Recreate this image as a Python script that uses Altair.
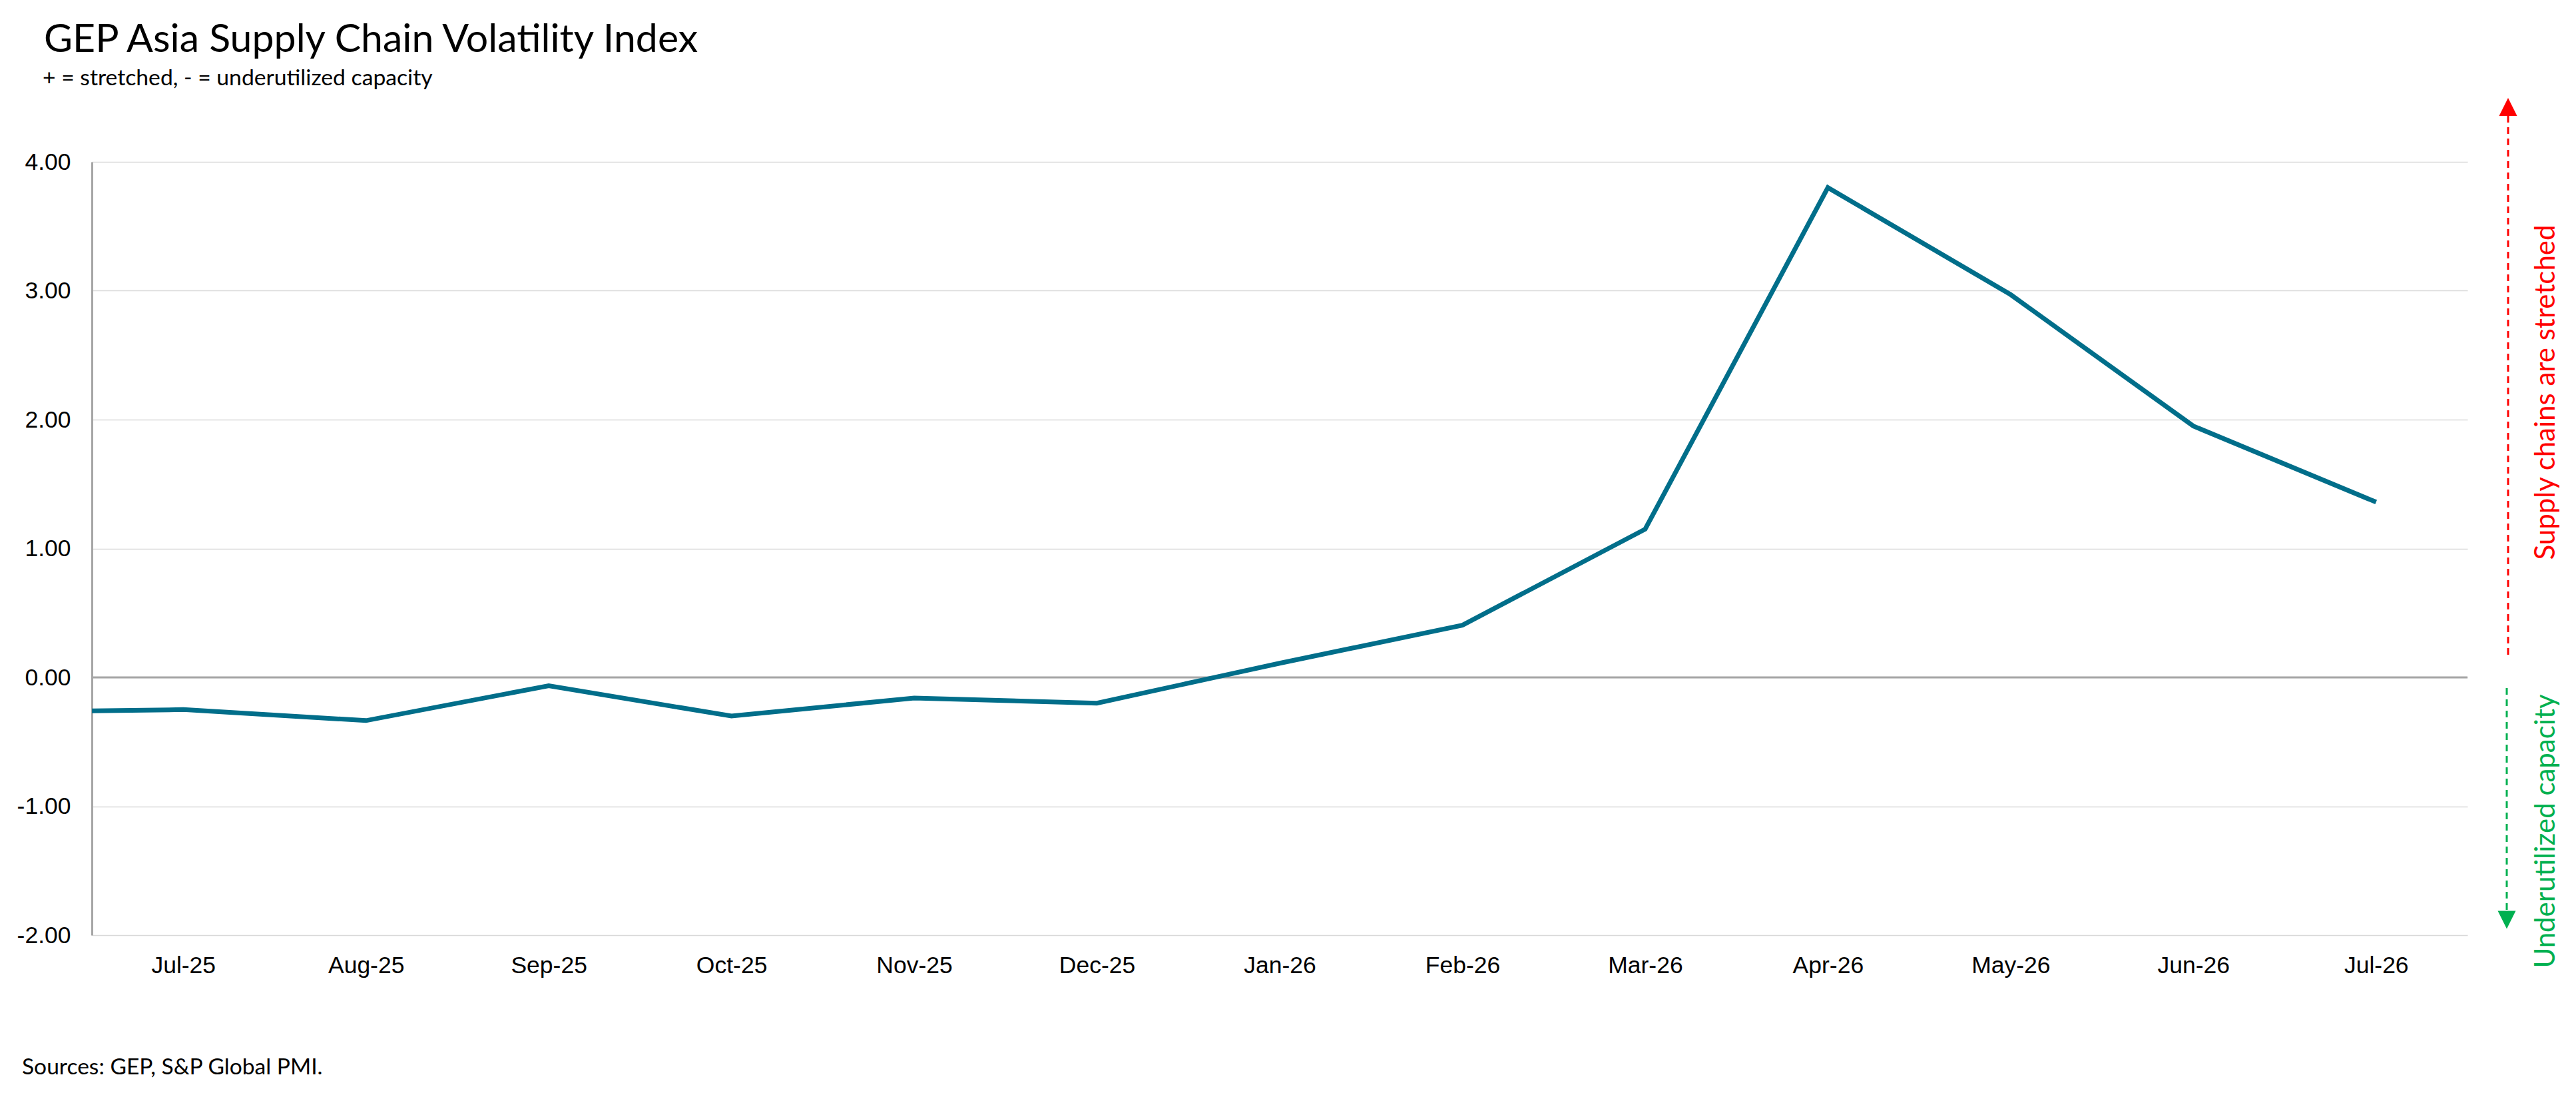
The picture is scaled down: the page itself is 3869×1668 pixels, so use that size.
import json
import altair as alt
import pandas as pd

# ---------------- data ----------------
months = ["Jun-25", "Jul-25", "Aug-25", "Sep-25", "Oct-25", "Nov-25", "Dec-25",
          "Jan-26", "Feb-26", "Mar-26", "Apr-26", "May-26", "Jun-26", "Jul-26"]
values = [-0.27, -0.25, -0.335, -0.065, -0.30, -0.16, -0.20,
          0.11, 0.405, 1.15, 3.80, 2.97, 1.95, 1.36]
y_ticks = [-2, -1, 0, 1, 2, 3, 4]

title_text = "GEP Asia Supply Chain Volatility Index"
subtitle_text = "+ = stretched, - = underutilized capacity"
source_text = "Sources: GEP, S&P Global PMI."
up_text = "Supply chains are stretched"
down_text = "Underutilized capacity"

df = pd.DataFrame({"idx": list(range(len(months))), "month": months, "value": values})
label_expr = f"{json.dumps(months)}[datum.value]"

W, H = 3568, 1161
TEXT_FONT = "Lato"
AXIS_FONT = "Liberation Sans"
LINE_COLOR = "#016E8A"
RED = "#FF0000"
GREEN = "#00B050"

x_enc = alt.X(
    "idx:Q",
    scale=alt.Scale(domain=[0.5, len(months) - 0.5], nice=False, zero=False),
    axis=alt.Axis(values=list(range(1, len(months))), labelExpr=label_expr,
                  title=None, grid=False, domain=False, ticks=False,
                  labelFont=AXIS_FONT, labelFontSize=35.5, labelColor="#000000",
                  labelPadding=56, labelBaseline="alphabetic"),
)
y_enc = alt.Y(
    "value:Q",
    scale=alt.Scale(domain=[-2, 4], nice=False, zero=False),
    axis=alt.Axis(values=y_ticks,
                  labelExpr="replace(format(datum.value, '.2f'), '\u2212', '-')",
                  title=None, grid=True,
                  gridColor="#D9D9D9", gridWidth=1.5, domain=True,
                  domainColor="#A6A6A6", domainWidth=3, ticks=False,
                  labelFont=AXIS_FONT, labelFontSize=35.5, labelColor="#000000",
                  labelPadding=32),
)

line = alt.Chart(df).mark_line(clip=True, strokeWidth=7, color=LINE_COLOR).encode(
    x=x_enc, y=y_enc)

zero_rule = alt.Chart(pd.DataFrame({"z": [0]})).mark_rule(
    color="#A6A6A6", strokeWidth=3).encode(y=alt.Y("z:Q"))


def text_layer(txt, x, y, size, color="#000000", angle=0, align="left",
               baseline="alphabetic"):
    return alt.Chart(pd.DataFrame({"t": [txt]})).mark_text(
        font=TEXT_FONT, fontSize=size, color=color, angle=angle, align=align,
        baseline=baseline).encode(text="t:N", x=alt.value(x), y=alt.value(y))


title = text_layer(title_text, -72, -165, 59)
subtitle = text_layer(subtitle_text, -74, -115, 33.7)
source = text_layer(source_text, -105, 1370, 33.6)
up_lbl = text_layer(up_text, 3699, 346, 42, color=RED, angle=270, align="center")
down_lbl = text_layer(down_text, 3699, 1005, 42, color=GREEN, angle=270, align="center")

one = pd.DataFrame({"a": [0]})
red_rule = alt.Chart(one).mark_rule(color=RED, strokeWidth=3, strokeDash=[10, 7]).encode(
    x=alt.value(3629), y=alt.value(-69), y2=alt.value(740))
green_rule = alt.Chart(one).mark_rule(color=GREEN, strokeWidth=3, strokeDash=[10, 7]).encode(
    x=alt.value(3627), y=alt.value(790), y2=alt.value(1125))
red_head = alt.Chart(one).mark_point(shape="M0,-1L1,1L-1,1Z", filled=True, size=729,
                                     color=RED, opacity=1).encode(
    x=alt.value(3629), y=alt.value(-82.5))
green_head = alt.Chart(one).mark_point(shape="M-1,-1L1,-1L0,1Z", filled=True, size=729,
                                       color=GREEN, opacity=1).encode(
    x=alt.value(3627), y=alt.value(1138))

chart = alt.layer(
    zero_rule, line, title, subtitle, source, up_lbl, down_lbl,
    red_rule, green_rule, red_head, green_head
).properties(
    width=W, height=H,
    autosize=alt.AutoSizeParams(type="none"),
    padding={"left": 130, "top": 235, "right": 155, "bottom": 240},
    background="white",
).configure_view(stroke=None)

chart.save("out.html", embed_options={"renderer": "svg", "actions": False})
